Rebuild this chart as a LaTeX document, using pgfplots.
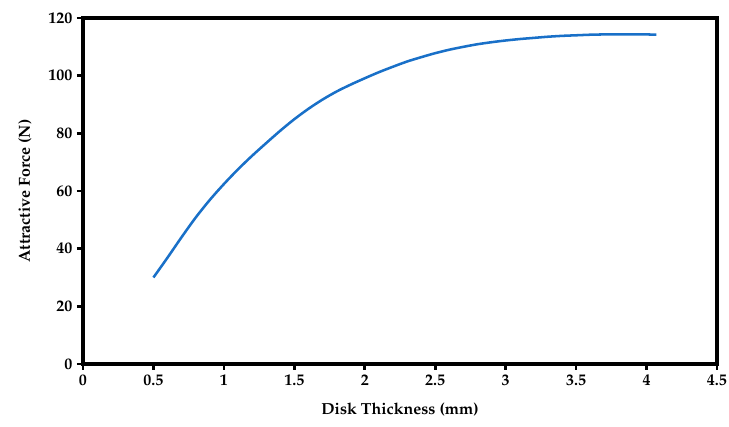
\documentclass[border=0pt]{standalone}
\usepackage[T1]{fontenc}
\usepackage{mathpazo}
\usepackage{pgfplots}
\pgfplotsset{compat=1.18}
\definecolor{curveblue}{RGB}{25,112,200}

\begin{document}
\begin{tikzpicture}
\begin{axis}[
    scale only axis,
    width=475.5pt, height=259.5pt,
    xmin=0, xmax=4.5, ymin=0, ymax=120,
    xtick={0,0.5,...,4.5}, ytick={0,20,...,120},
    tick align=outside, major tick length=4.5pt,
    axis line style={line width=2.4pt},
    every tick/.style={black, line width=2pt},
    xtick pos=bottom, ytick pos=left,
    font=\fontsize{12}{14}\selectfont\bfseries,
    /pgf/number format/assume math mode=true,
    xticklabel style={font=\fontsize{12}{14}\selectfont\bfseries},
    yticklabel style={font=\fontsize{12}{14}\selectfont\bfseries},
    xlabel={Disk Thickness (mm)},
    ylabel={Attractive Force (N)},
    xlabel style={at={(axis description cs:0.5,-0.133)}, anchor=center},
    ylabel style={at={(axis description cs:-0.0915,0.5)}, anchor=center},
]
\addplot[curveblue, line width=1.9pt, smooth] coordinates {
    (0.5,30) (0.6,36.9) (0.7,44) (0.8,50.8) (0.9,56.9) (1.0,62.4)
    (1.1,67.5) (1.2,72.2) (1.3,76.6) (1.4,80.9) (1.5,84.9)
    (1.6,88.5) (1.7,91.7) (1.8,94.5) (1.9,96.9) (2.0,99.1)
    (2.1,101.2) (2.2,103.1) (2.3,104.9) (2.4,106.4) (2.5,107.8)
    (2.6,109.0) (2.7,110.0) (2.8,110.9) (2.9,111.6) (3.0,112.2)
    (3.1,112.7) (3.2,113.1) (3.3,113.5) (3.4,113.8) (3.5,114.0)
    (3.6,114.2) (3.7,114.3) (3.8,114.35) (3.9,114.35) (4.0,114.3)
    (4.07,114.2)
};
\end{axis}
\pgfresetboundingbox
\path (-62.25pt,-47.25pt) rectangle (484.5pt,273pt);
\end{tikzpicture}
\end{document}
